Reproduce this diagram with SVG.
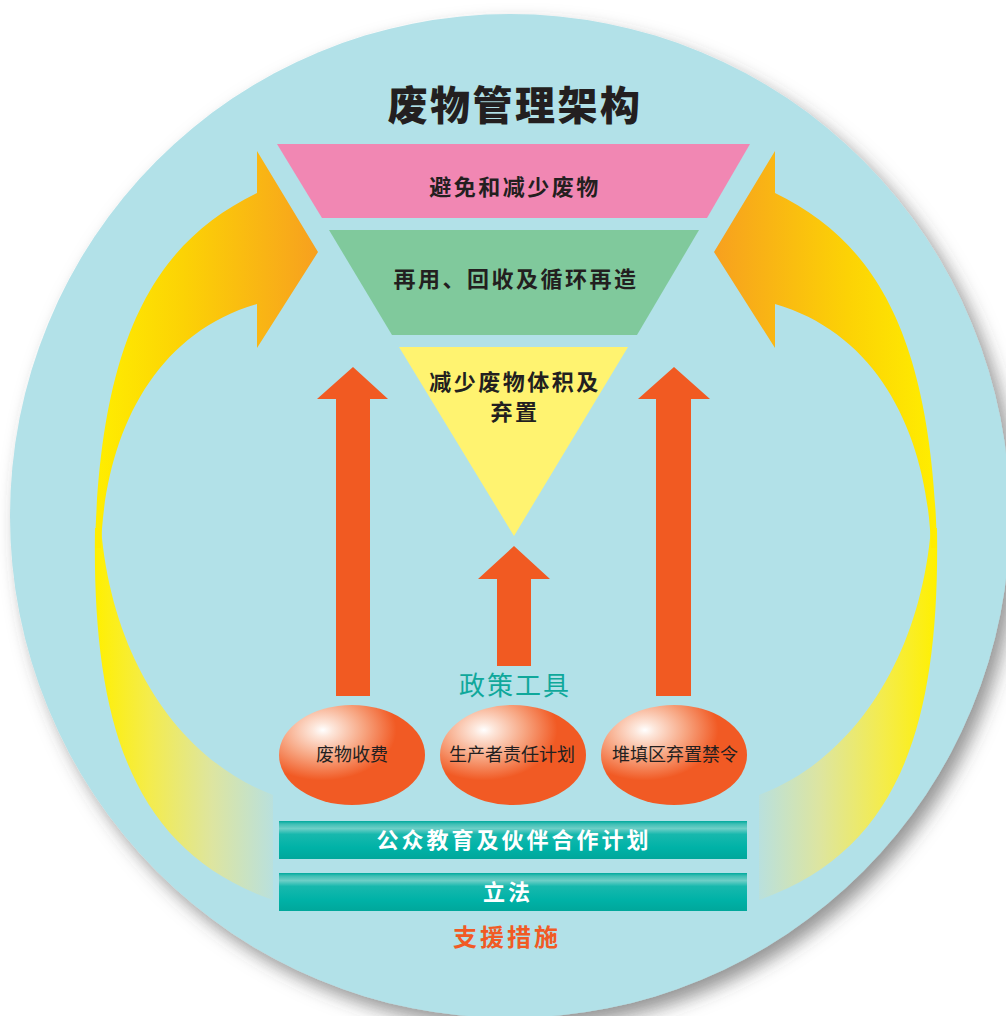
<svg xmlns="http://www.w3.org/2000/svg" xmlns:xlink="http://www.w3.org/1999/xlink" width="1006" height="1016" viewBox="0 0 1006 1016">
<defs>
<style>
.cjk{font-family:"Noto Sans CJK SC","Noto Sans CJK TC","Noto Sans CJK JP",sans-serif}
.title{font-size:40px;font-weight:900;fill:#231F20;letter-spacing:2.5px;text-anchor:middle}
.lvl{font-size:22px;font-weight:700;fill:#231F20;letter-spacing:2.5px;text-anchor:middle}
.tool{font-size:18px;font-weight:400;fill:#231F20;text-anchor:middle}
.bar{font-size:22px;font-weight:700;fill:#FFFFFF;letter-spacing:3px;text-anchor:middle}
.up{fill:#F15A22}
.ball{fill:url(#gBall)}
.barrect{fill:url(#gBar)}
</style>
<filter id="sh" x="-5%" y="-5%" width="115%" height="115%">
<feDropShadow dx="8" dy="10" stdDeviation="9" flood-color="#3c3c3c" flood-opacity="0.55"/>
</filter>
<linearGradient id="gUp" gradientUnits="userSpaceOnUse" x1="95" y1="0" x2="318" y2="0">
<stop offset="0" stop-color="#FFEE00"/>
<stop offset="0.4" stop-color="#FCD205"/>
<stop offset="1" stop-color="#F7A01F"/>
</linearGradient>
<linearGradient id="gLow" gradientUnits="userSpaceOnUse" x1="95" y1="0" x2="275" y2="0">
<stop offset="0" stop-color="#FFF000"/>
<stop offset="0.3" stop-color="#F4EC4C"/>
<stop offset="0.65" stop-color="#DDE5A0"/>
<stop offset="1" stop-color="#B8E0DF"/>
</linearGradient>
<radialGradient id="gBall" cx="0.3" cy="0.25" r="0.7" fx="0.3" fy="0.25">
<stop offset="0" stop-color="#FFFFFF"/>
<stop offset="0.1" stop-color="#FDE6DA"/>
<stop offset="0.4" stop-color="#F7A581"/>
<stop offset="0.72" stop-color="#F15A24"/>
<stop offset="1" stop-color="#F15A24"/>
</radialGradient>
<linearGradient id="gBar" x1="0" y1="0" x2="0" y2="1">
<stop offset="0" stop-color="#00A99D"/>
<stop offset="0.08" stop-color="#3FBFB5"/>
<stop offset="0.2" stop-color="#6ECFC7"/>
<stop offset="0.35" stop-color="#17B8AD"/>
<stop offset="0.7" stop-color="#00B2A7"/>
<stop offset="1" stop-color="#00A79B"/>
</linearGradient>
</defs>

<rect width="1006" height="1016" fill="#FFFFFF"/>
<ellipse id="backdrop" cx="510" cy="516" rx="500" ry="502" fill="#B2E1E8" filter="url(#sh)"/>

<g id="cycle-arrows">
<g id="arrow-left">
<path fill="url(#gLow)" d="M95,528 C92,720 130,850 273,900 L273,795 C180,760 112,660 101,528 Z"/>
<path fill="url(#gUp)" d="M257,193 C160,240 100,330 95,548 L101,548 C104,440 150,335 257,304 L257,348 L318,252 L257,151 Z"/>
</g>
<use xlink:href="#arrow-left" href="#arrow-left" transform="translate(1032,0) scale(-1,1)"/>
</g>

<text id="title" class="cjk title" x="515" y="120">废物管理架构</text>

<g id="level-avoid">
<polygon points="277,144 750,144 707,218 322,218" fill="#F187B3"/>
<text class="cjk lvl" x="515" y="195">避免和减少废物</text>
</g>
<g id="level-reuse">
<polygon points="329,230 699,230 637,335 392,335" fill="#80C99C"/>
<text class="cjk lvl" x="516" y="287">再用、回收及循环再造</text>
</g>
<g id="level-dispose">
<polygon points="399,347 628,347 514,536" fill="#FFF370"/>
<text class="cjk lvl" x="515" y="390">减少废物体积及</text>
<text class="cjk lvl" x="515" y="420">弃置</text>
</g>

<g id="connectors">
<polygon class="up" points="353,367 388,399 370,399 370,696 336,696 336,399 317,399"/>
<polygon class="up" points="514,546 550,579 531,579 531,666 497,666 497,579 478,579"/>
<polygon class="up" points="674,367 710,399 691,399 691,696 656,696 656,399 638,399"/>
</g>

<text id="policy-label" class="cjk" x="515" y="695" font-size="26" fill="#0FA89B" letter-spacing="2" text-anchor="middle">政策工具</text>

<g id="tool-charging">
<ellipse class="ball" cx="352" cy="755" rx="73" ry="50"/>
<text class="cjk tool" x="352" y="761">废物收费</text>
</g>
<g id="tool-producer">
<ellipse class="ball" cx="513" cy="755" rx="73" ry="50"/>
<text class="cjk tool" x="512" y="761">生产者责任计划</text>
</g>
<g id="tool-landfill">
<ellipse class="ball" cx="674" cy="755" rx="73" ry="50"/>
<text class="cjk tool" x="675" y="761">堆填区弃置禁令</text>
</g>

<g id="measure-education">
<rect class="barrect" x="279" y="821" width="468" height="38"/>
<text class="cjk bar" x="514" y="848">公众教育及伙伴合作计划</text>
</g>
<g id="measure-legislation">
<rect class="barrect" x="279" y="873" width="468" height="38"/>
<text class="cjk bar" x="508" y="900">立法</text>
</g>

<text id="support-label" class="cjk" x="507" y="946" font-size="24" font-weight="700" fill="#F15A24" letter-spacing="3" text-anchor="middle">支援措施</text>
</svg>
